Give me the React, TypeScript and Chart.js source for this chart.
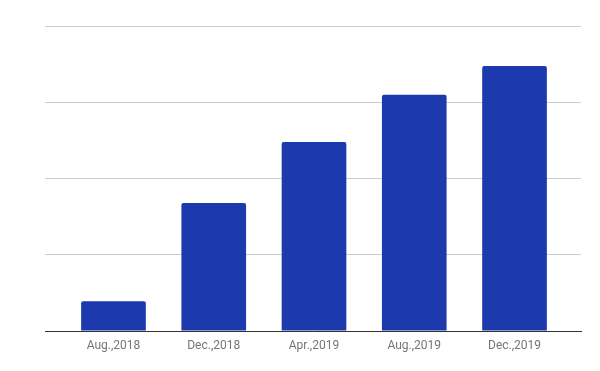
import React, { useEffect, useRef } from "react";
import { Chart, registerables } from "chart.js";

Chart.register(...registerables);

const categories = ["Aug.,2018", "Dec.,2018", "Apr.,2019", "Aug.,2019", "Dec.,2019"];
const values = [0.39, 1.68, 2.48, 3.1, 3.475];
const yTicks = [0, 1, 2, 3, 4];

export default function App() {
  const ref = useRef<HTMLCanvasElement | null>(null);
  useEffect(() => {
    if (!ref.current) return;
    const chart = new Chart(ref.current, {
      type: "bar",
      data: {
        datasets: [
          {
            data: values.map((v, i) => ({ x: i, y: v })),
            backgroundColor: "#1c3aae",
            borderRadius: 2,
            borderSkipped: "bottom",
            categoryPercentage: 1,
            barPercentage: 0.645,
          },
        ],
      },
      options: {
        animation: false,
        responsive: false,
        maintainAspectRatio: false,
        layout: { padding: { top: 26, right: 19, left: 0, bottom: 0 } },
        plugins: { legend: { display: false }, tooltip: { enabled: false } },
        scales: {
          x: {
            type: "linear",
            offset: false,
            min: -0.683,
            max: categories.length - 1 + 0.663,
            afterBuildTicks: (s: any) => {
              s.ticks = categories.map((_, i) => ({ value: i }));
            },
            grid: { display: false, drawTicks: false },
            border: { display: true, color: "#333333", width: 1 },
            ticks: {
              color: "#757575",
              font: { family: "Roboto", size: 12 },
              padding: 8,
              maxRotation: 0,
              autoSkip: false,
              callback: (v: any) => categories[v as number] ?? "",
            },
            afterFit: (s: any) => {
              s.height = 40;
            },
          },
          y: {
            min: yTicks[0],
            max: yTicks[yTicks.length - 1],
            afterBuildTicks: (s: any) => {
              s.ticks = yTicks.map((v) => ({ value: v }));
            },
            grid: { color: "#cccccc", drawTicks: false },
            border: { display: false },
            ticks: { display: false },
            afterFit: (s: any) => {
              s.width = 45;
            },
          },
        },
      },
    });
    return () => chart.destroy();
  }, []);
  return (
    <div style={{ position: "absolute", left: 0, top: 0, width: 600, height: 371, background: "#fff" }}>
      <canvas ref={ref} width={600} height={371} style={{ display: "block", width: 600, height: 371 }} />
    </div>
  );
}
